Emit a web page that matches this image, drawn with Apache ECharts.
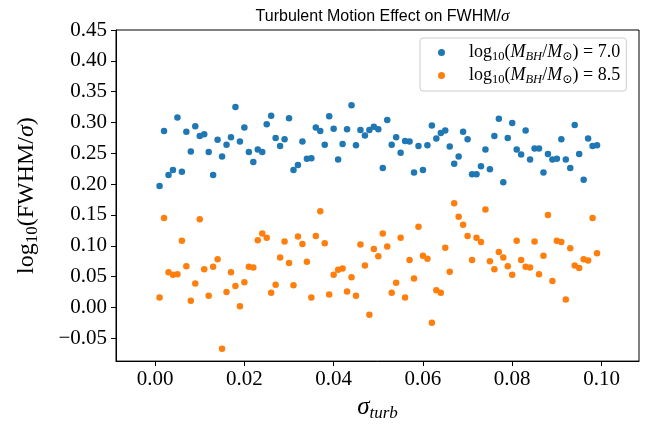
<!DOCTYPE html>
<html>
<head>
<meta charset="utf-8">
<script src="https://cdn.jsdelivr.net/npm/echarts@6/dist/echarts.min.js"></script>
<style>
html,body{margin:0;padding:0;background:#fff;}
#chart{width:657px;height:427px;}
</style>
</head>
<body>
<div id="chart"></div>
<script>
// sigma_turb values (x)
const sigmaTurb = [0.001,0.002,0.003,0.004,0.005,0.006,0.007,0.008,0.009,0.010,
0.011,0.012,0.013,0.014,0.015,0.016,0.017,0.018,0.019,0.020,
0.021,0.022,0.023,0.024,0.025,0.026,0.027,0.028,0.029,0.030,
0.031,0.032,0.033,0.034,0.035,0.036,0.037,0.038,0.039,0.040,
0.041,0.042,0.043,0.044,0.045,0.046,0.047,0.048,0.049,0.050,
0.051,0.052,0.053,0.054,0.055,0.056,0.057,0.058,0.059,0.060,
0.061,0.062,0.063,0.064,0.065,0.066,0.067,0.068,0.069,0.070,
0.071,0.072,0.073,0.074,0.075,0.076,0.077,0.078,0.079,0.080,
0.081,0.082,0.083,0.084,0.085,0.086,0.087,0.088,0.089,0.090,
0.091,0.092,0.093,0.094,0.095,0.096,0.097,0.098,0.099];

// log10(FWHM/sigma) for log10(M_BH/M_sun) = 7.0
const fwhm70 = [0.197,0.286,0.215,0.223,0.308,0.220,0.285,0.253,0.294,0.278,
0.281,0.252,0.215,0.272,0.245,0.264,0.276,0.325,0.269,0.292,
0.252,0.236,0.256,0.252,0.297,0.311,0.275,0.262,0.273,0.307,
0.223,0.231,0.269,0.241,0.242,0.292,0.286,0.264,0.310,0.290,
0.240,0.265,0.289,0.328,0.263,0.288,0.279,0.288,0.293,0.289,
0.226,0.304,0.264,0.276,0.251,0.270,0.269,0.219,0.262,0.223,
0.263,0.295,0.274,0.283,0.287,0.261,0.233,0.245,0.285,0.273,
0.216,0.216,0.229,0.256,0.224,0.278,0.306,0.203,0.275,0.299,
0.256,0.248,0.287,0.240,0.258,0.258,0.219,0.249,0.240,0.241,
0.273,0.240,0.226,0.296,0.249,0.207,0.274,0.262,0.263];

// log10(FWHM/sigma) for log10(M_BH/M_sun) = 8.5
const fwhm85 = [0.016,0.145,0.057,0.053,0.054,0.108,0.067,0.011,0.039,0.143,
0.062,0.019,0.066,0.078,-0.067,0.025,0.057,0.035,0.002,0.041,
0.066,0.065,0.109,0.120,0.113,0.024,0.037,0.081,0.107,0.072,
0.036,0.115,0.103,0.074,0.016,0.116,0.156,0.104,0.021,0.053,
0.061,0.063,0.026,0.049,0.019,0.102,0.068,-0.012,0.095,0.083,
0.120,0.099,0.024,0.040,0.113,0.016,0.077,0.047,0.131,0.084,
0.079,-0.025,0.028,0.024,0.097,0.058,0.169,0.147,0.134,0.116,
0.077,0.113,0.106,0.159,0.075,0.062,0.090,0.081,0.067,0.053,
0.108,0.077,0.066,0.065,0.107,0.054,0.084,0.150,0.043,0.108,
0.106,0.013,0.096,0.068,0.064,0.078,0.076,0.145,0.088];

const massLabels = ['7.0', '8.5'];
const xTicks = [0, 0.02, 0.04, 0.06, 0.08, 0.10];
const yTicks = [-0.05, 0, 0.05, 0.10, 0.15, 0.20, 0.25, 0.30, 0.35, 0.40, 0.45];

const SERIF = '"Liberation Serif", "DejaVu Serif", serif';
const SANS = '"Liberation Sans", "DejaVu Sans", sans-serif';

const seriesNames = massLabels.map(m => 'log10(M_BH/M_sun) = ' + m);

const chart = echarts.init(document.getElementById('chart'), null, {renderer: 'canvas'});
const fmtNum = v => (v < 0 ? '\u2212' : '') + Math.abs(v).toFixed(2);

chart.setOption({
  animation: false,
  backgroundColor: '#fff',
  title: {
    text: '{t|Turbulent Motion Effect on FWHM/}{s|σ}',
    left: 377.5,
    top: 3,
    textAlign: 'center',
    textStyle: {
      fontWeight: 'normal',
      rich: {
        t: {fontFamily: SANS, fontSize: 16, fontWeight: 'normal', color: '#000'},
        s: {fontFamily: SERIF, fontStyle: 'italic', fontWeight: 'normal', fontSize: 17, color: '#000'}
      }
    }
  },
  grid: {left: 116, right: 18, top: 30, bottom: 57, show: true, borderColor: '#000', borderWidth: 1},
  legend: {
    orient: 'vertical',
    left: 420,
    top: 38,
    padding: [5, 6, 5, 18],
    itemGap: 3,
    itemWidth: 7,
    itemHeight: 7,
    icon: 'circle',
    borderColor: '#cccccc',
    borderWidth: 1,
    borderRadius: 3,
    backgroundColor: 'rgba(255,255,255,0.8)',
    data: seriesNames,
    formatter: name => {
      const m = massLabels[seriesNames.indexOf(name)];
      return '{r|log}{s|10}{r|(}{i|M}{si|BH}{r|/}{i|M}{s|⊙}{r|) = ' + m + '}';
    },
    textStyle: {
      fontFamily: SERIF,
      fontSize: 18,
      lineHeight: 19,
      padding: [0, 0, 0, 19],
      rich: {
        r: {fontFamily: SERIF, fontSize: 18, color: '#000'},
        i: {fontFamily: SERIF, fontStyle: 'italic', fontSize: 18, color: '#000'},
        s: {fontFamily: SERIF, fontSize: 12.5, color: '#000', padding: [8, 0, 0, 0]},
        si: {fontFamily: SERIF, fontStyle: 'italic', fontSize: 12.5, color: '#000', padding: [8, 0, 0, 0]}
      }
    }
  },
  xAxis: {
    type: 'value',
    min: -0.00876,
    max: 0.1084,
    name: '{i|σ}{s|turb}',
    nameLocation: 'middle',
    nameGap: 28,
    nameTextStyle: {
      rich: {
        i: {fontFamily: SERIF, fontStyle: 'italic', fontSize: 25, color: '#000'},
        s: {fontFamily: SERIF, fontStyle: 'italic', fontSize: 17, color: '#000', padding: [12, 0, 0, 0]}
      }
    },
    splitLine: {show: false},
    axisLine: {show: true, onZero: false, lineStyle: {color: '#000', width: 1}},
    axisTick: {show: true, inside: false, length: 5, customValues: xTicks, lineStyle: {color: '#000'}},
    axisLabel: {customValues: xTicks, formatter: fmtNum, fontFamily: SERIF, fontSize: 21, color: '#000', margin: 8}
  },
  yAxis: {
    type: 'value',
    min: -0.087,
    max: 0.45,
    name: '{r|log}{s|10}{r|(FWHM/}{i|σ}{r|)}',
    nameLocation: 'middle',
    nameGap: 75,
    nameRotate: 90,
    nameTextStyle: {
      rich: {
        r: {fontFamily: SERIF, fontSize: 24, color: '#000'},
        i: {fontFamily: SERIF, fontStyle: 'italic', fontSize: 24, color: '#000'},
        s: {fontFamily: SERIF, fontSize: 17, color: '#000', padding: [12, 0, 0, 0]}
      }
    },
    splitLine: {show: false},
    axisLine: {show: true, onZero: false, lineStyle: {color: '#000', width: 1}},
    axisTick: {show: true, inside: false, length: 5, customValues: yTicks, lineStyle: {color: '#000'}},
    axisLabel: {customValues: yTicks, formatter: fmtNum, fontFamily: SERIF, fontSize: 21, color: '#000', margin: 9}
  },
  series: [
    {
      name: seriesNames[0],
      type: 'scatter',
      symbol: 'circle',
      symbolSize: 6.5,
      itemStyle: {color: '#1f77b4', opacity: 1},
      data: sigmaTurb.map((x, i) => [x, fwhm70[i]])
    },
    {
      name: seriesNames[1],
      type: 'scatter',
      symbol: 'circle',
      symbolSize: 6.5,
      itemStyle: {color: '#ff7f0e', opacity: 1},
      data: sigmaTurb.map((x, i) => [x, fwhm85[i]])
    }
  ]
});
</script>
</body>
</html>
